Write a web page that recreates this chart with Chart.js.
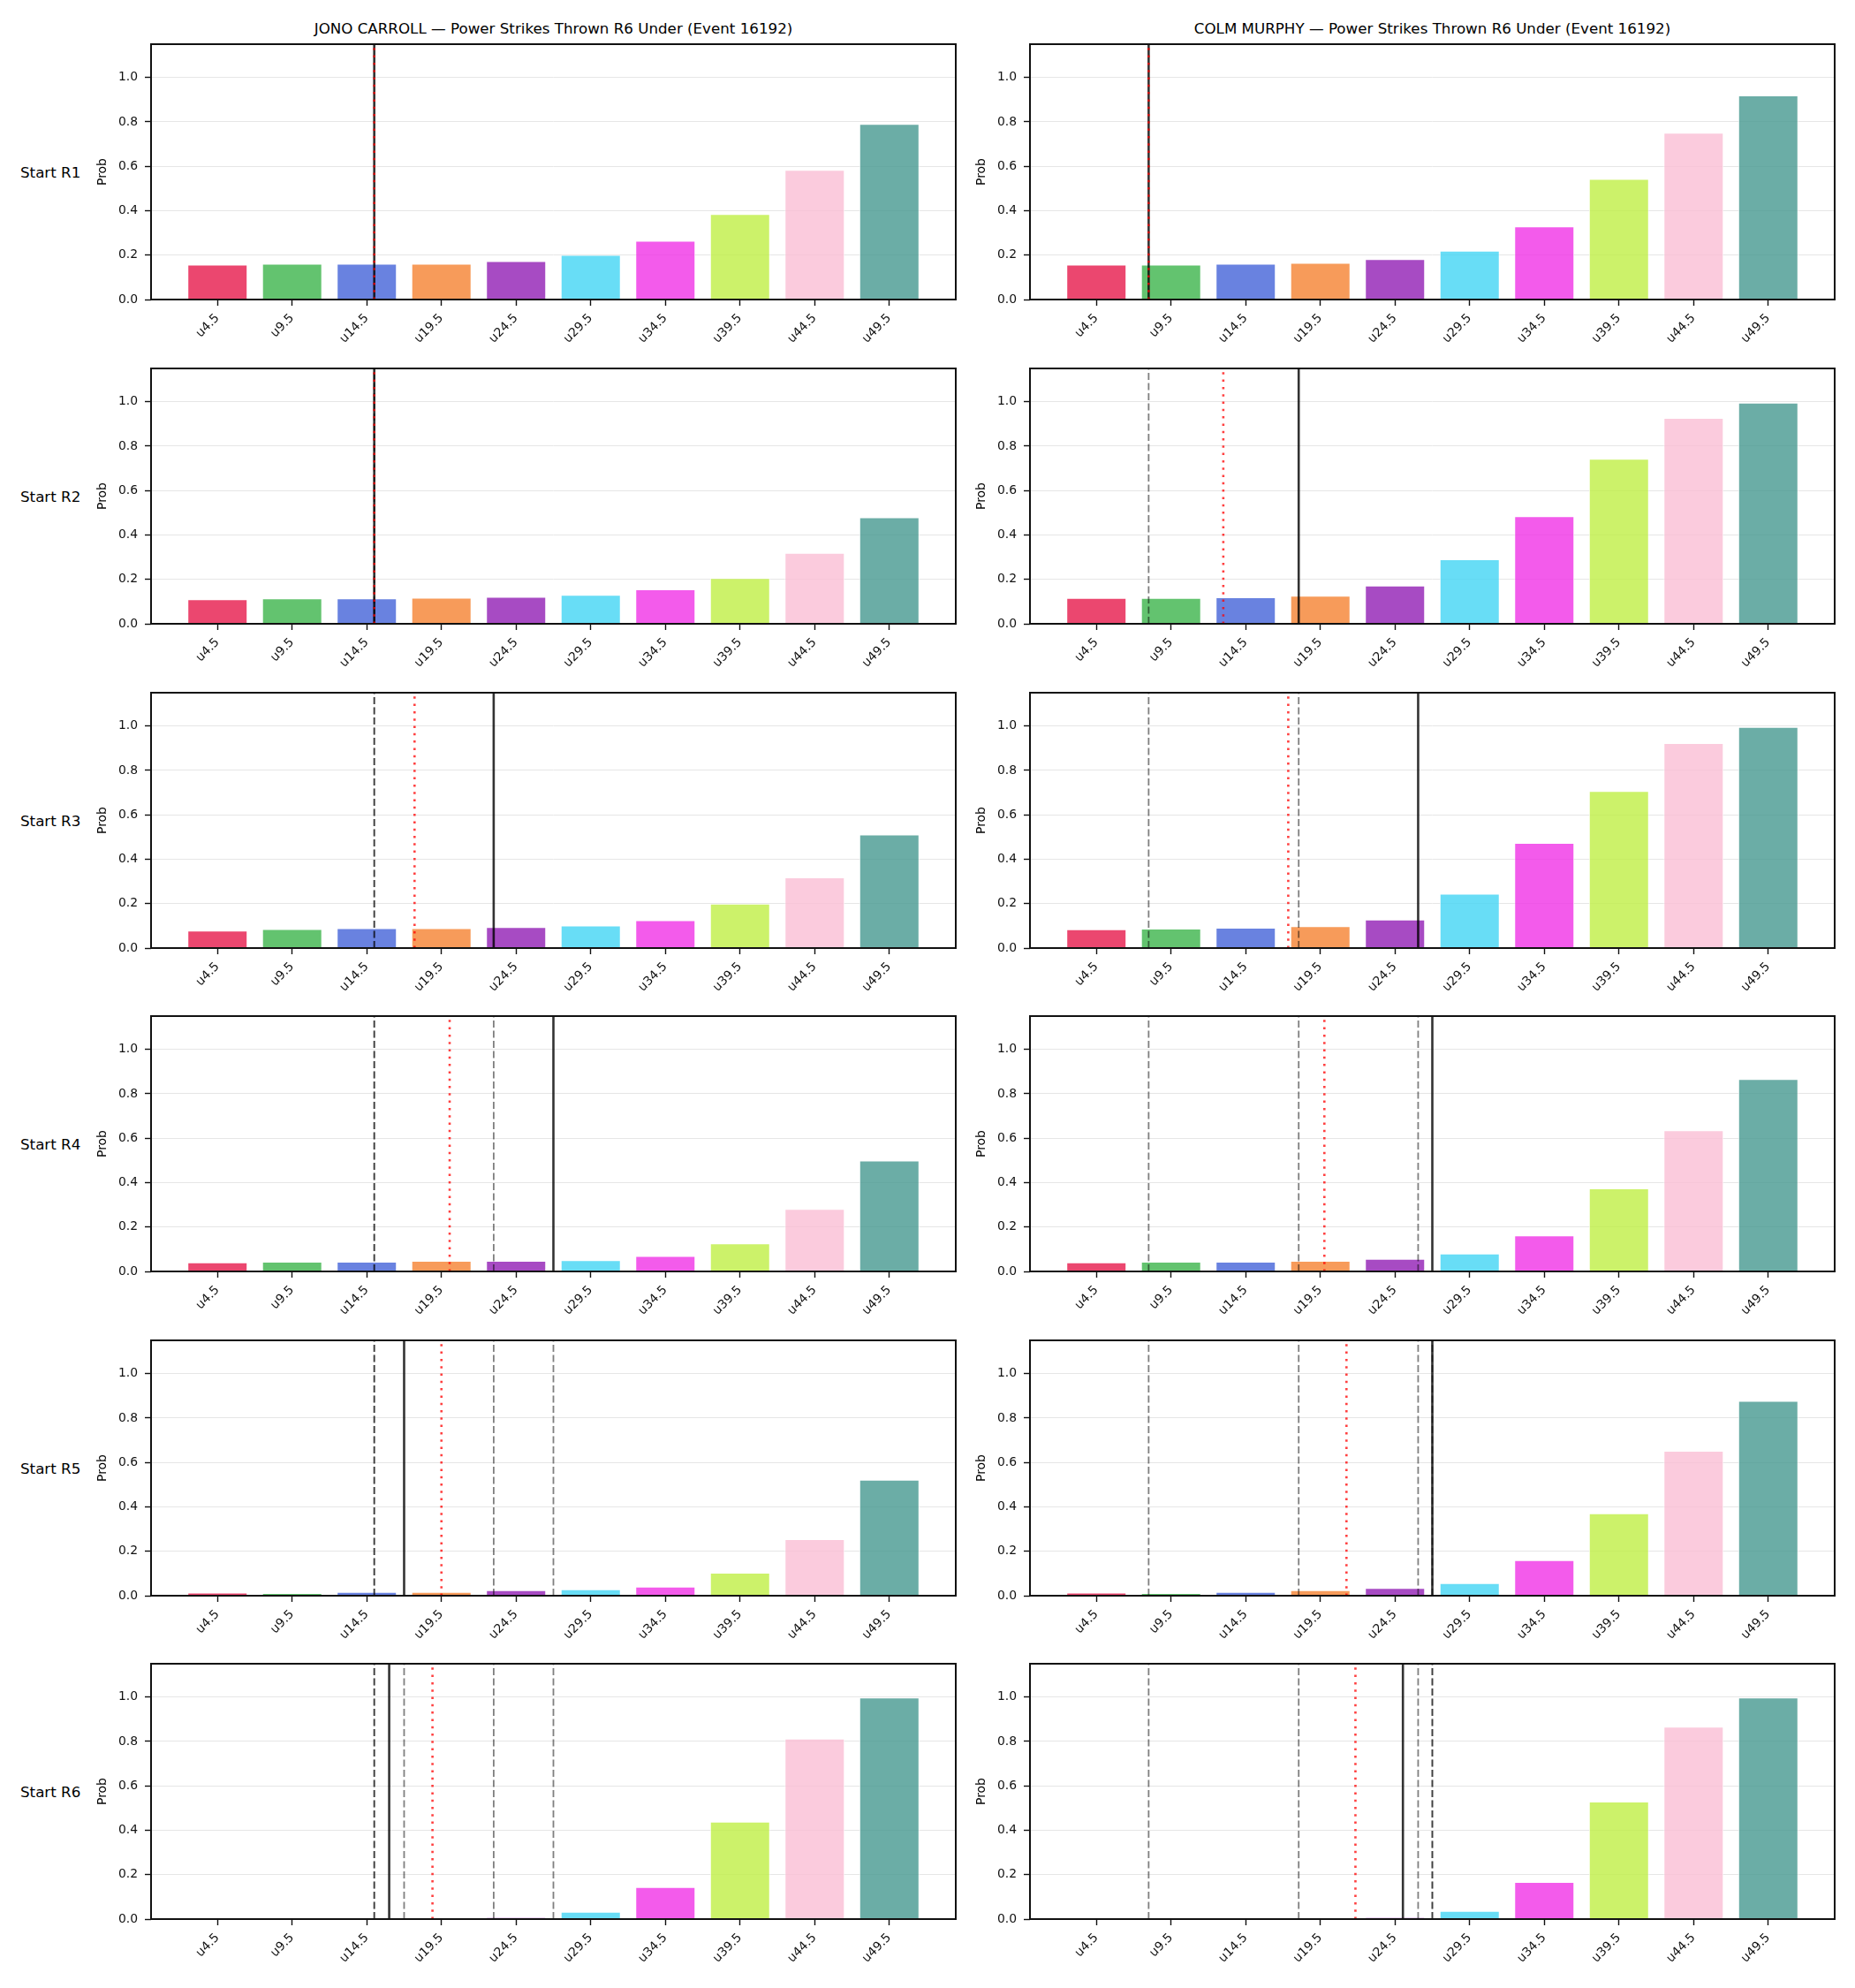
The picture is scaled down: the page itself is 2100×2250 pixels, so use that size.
<!DOCTYPE html>
<html>
<head>
<meta charset="utf-8">
<script src="https://cdn.jsdelivr.net/npm/chart.js@4.4.0/dist/chart.umd.min.js"></script>
<style>
  body { margin: 0; background: #fff; width: 2100px; height: 2250px; position: relative; font-family: "DejaVu Sans", sans-serif; }
  canvas { position: absolute; }
  .lbl { position: absolute; font-size: 16.7px; color: #000; white-space: nowrap; line-height: 20px; }
</style>
</head>
<body>
<script>
// thresholds (x categories) and tick labels
const thresholds = [4.5, 9.5, 14.5, 19.5, 24.5, 29.5, 34.5, 39.5, 44.5, 49.5];
const tickLabels = thresholds.map(t => 'u' + t);
const yTicks = [0, 0.2, 0.4, 0.6, 0.8, 1.0];
const rounds = ['Start R1', 'Start R2', 'Start R3', 'Start R4', 'Start R5', 'Start R6'];
const fighters = ['JONO CARROLL', 'COLM MURPHY'];

// P(under) per round start — Jono Carroll
const carrollR1 = [0.156, 0.160, 0.160, 0.160, 0.172, 0.200, 0.264, 0.384, 0.583, 0.790];
const carrollR2 = [0.110, 0.114, 0.114, 0.117, 0.121, 0.130, 0.154, 0.205, 0.319, 0.479];
const carrollR3 = [0.078, 0.085, 0.089, 0.089, 0.094, 0.101, 0.125, 0.199, 0.318, 0.511];
const carrollR4 = [0.040, 0.043, 0.043, 0.047, 0.047, 0.050, 0.069, 0.126, 0.281, 0.499];
const carrollR5 = [0.013, 0.011, 0.016, 0.016, 0.024, 0.028, 0.040, 0.103, 0.254, 0.521];
const carrollR6 = [0.000, 0.002, 0.002, 0.002, 0.008, 0.032, 0.143, 0.438, 0.812, 0.997];

// P(under) per round start — Colm Murphy
const murphyR1 = [0.156, 0.156, 0.160, 0.164, 0.181, 0.219, 0.328, 0.542, 0.750, 0.918];
const murphyR2 = [0.116, 0.116, 0.119, 0.126, 0.171, 0.290, 0.484, 0.742, 0.926, 0.995];
const murphyR3 = [0.084, 0.087, 0.091, 0.098, 0.128, 0.244, 0.473, 0.707, 0.922, 0.995];
const murphyR4 = [0.040, 0.043, 0.043, 0.047, 0.056, 0.080, 0.161, 0.373, 0.635, 0.866];
const murphyR5 = [0.013, 0.011, 0.016, 0.024, 0.034, 0.056, 0.159, 0.370, 0.652, 0.877];
const murphyR6 = [0.000, 0.001, 0.003, 0.002, 0.008, 0.036, 0.166, 0.528, 0.866, 0.997];

// vertical markers, in strikes (solid = line for that round, red dotted = median)
const carrollLine = [15, 15, 23, 27, 17, 16];
const carrollMedian = [15, 15, 17.7, 20.05, 19.5, 18.9];
const murphyLine = [8, 18.05, 26.05, 27, 27, 25.03];
const murphyMedian = [8, 13, 17.35, 19.77, 21.25, 21.85];

const carrollProbs = [carrollR1, carrollR2, carrollR3, carrollR4, carrollR5, carrollR6];
const murphyProbs = [murphyR1, murphyR2, murphyR3, murphyR4, murphyR5, murphyR6];

const barColors = ['#e6194B', '#3cb44b', '#4363d8', '#f58231', '#911eb4',
                   '#42d4f4', '#f032e6', '#bfef45', '#fabed4', '#469990'];

// layout
const AX_LEFT = [171, 1166];
const AX_W = 911;
const AX_H = 289;
const ROW_TOPS = [50, 417, 784, 1150, 1517, 1883];
const Y_AXIS_W = 67;
const PAD_TOP = 4;
const PAD_RIGHT = 6;
const X_AXIS_H = 75;
const X_MIN = -0.89, X_MAX = 9.89, Y_MAX = 1.15;

const tickFont = { family: 'DejaVu Sans', size: 13.9 };

function toIndex(v) {
  return (v - thresholds[0]) / (thresholds[1] - thresholds[0]);
}

function vline(v, color, width, dash, order) {
  const x = toIndex(v);
  return {
    type: 'line',
    data: [{ x: x, y: 0 }, { x: x, y: Y_MAX }],
    borderColor: color, borderWidth: width, borderDash: dash,
    pointRadius: 0, fill: false, tension: 0, order: order
  };
}

const frame = {
  id: 'frame',
  afterDatasetsDraw(chart) {
    const { ctx, chartArea: a } = chart;
    ctx.save();
    ctx.strokeStyle = '#111';
    ctx.lineWidth = 2;
    ctx.strokeRect(a.left, a.top, a.right - a.left, a.bottom - a.top);
    ctx.restore();
  }
};

function addLabel(text, left, top, center) {
  const d = document.createElement('div');
  d.className = 'lbl';
  d.textContent = text;
  d.style.left = left + 'px';
  d.style.top = top + 'px';
  if (center) d.style.transform = 'translateX(-50%)';
  document.body.appendChild(d);
}

function makePanel(col, row, probs, line, median) {
  const cv = document.createElement('canvas');
  cv.width = Y_AXIS_W + AX_W + PAD_RIGHT;
  cv.height = PAD_TOP + AX_H + X_AXIS_H;
  cv.style.left = (AX_LEFT[col] - Y_AXIS_W) + 'px';
  cv.style.top = (ROW_TOPS[row] - PAD_TOP) + 'px';
  document.body.appendChild(cv);

  const datasets = [{
    type: 'bar',
    data: probs.map((p, i) => ({ x: i, y: p })),
    backgroundColor: barColors.map(c => c + 'cc'),
    borderColor: '#ffffff',
    borderWidth: 0.8,
    barPercentage: 1,
    categoryPercentage: 0.8,
    order: 4
  }];
  // earlier rounds' lines as grey dashes
  line.slice(0, row).forEach(v => datasets.push(vline(v, 'rgba(0,0,0,0.5)', 1.8, [8, 3.5], 3)));
  datasets.push(vline(line[row], 'rgba(0,0,0,0.8)', 2.6, [], 2));
  datasets.push(vline(median[row], 'rgba(255,0,0,0.75)', 2.6, [2.5, 5.8], 1));

  new Chart(cv.getContext('2d'), {
    type: 'bar',
    data: { datasets },
    options: {
      responsive: false,
      animation: false,
      devicePixelRatio: 1,
      layout: { padding: { top: PAD_TOP, right: PAD_RIGHT, left: 0, bottom: 0 } },
      plugins: { legend: { display: false }, tooltip: { enabled: false } },
      scales: {
        x: {
          type: 'linear', min: X_MIN, max: X_MAX, offset: false,
          grid: { offset: false, drawOnChartArea: false, color: '#111', tickColor: '#111', tickLength: 7, tickWidth: 1.4 },
          border: { display: false },
          ticks: {
            autoSkip: false, minRotation: 45, maxRotation: 45, padding: 6,
            font: tickFont, color: '#111',
            callback: v => tickLabels[v]
          },
          afterBuildTicks: s => { s.ticks = thresholds.map((_, i) => ({ value: i })); },
          afterFit: s => { s.height = X_AXIS_H; s.paddingLeft = 0; s.paddingRight = 0; }
        },
        y: {
          min: 0, max: Y_MAX,
          grid: { color: '#e6e6e6', lineWidth: 1, tickColor: '#111', tickLength: 7, tickWidth: 1.4 },
          border: { display: false },
          ticks: { padding: 8, font: tickFont, color: '#111', callback: v => v.toFixed(1) },
          afterBuildTicks: s => { s.ticks = yTicks.map(v => ({ value: v })); },
          title: { display: true, text: 'Prob', color: '#000', font: { family: 'DejaVu Sans', size: 13.9 }, padding: { top: 4, bottom: 4 } },
          afterFit: s => { s.width = Y_AXIS_W; s.paddingTop = 0; s.paddingBottom = 0; }
        }
      }
    },
    plugins: [frame]
  });
}

fighters.forEach((name, col) => {
  addLabel(name + ' \u2014 Power Strikes Thrown R6 Under (Event 16192)', AX_LEFT[col] + AX_W / 2, 22, true);
});
rounds.forEach((r, row) => {
  addLabel(r, 23, ROW_TOPS[row] + AX_H / 2 - 10, false);
  makePanel(0, row, carrollProbs[row], carrollLine, carrollMedian);
  makePanel(1, row, murphyProbs[row], murphyLine, murphyMedian);
});
</script>
</body>
</html>
